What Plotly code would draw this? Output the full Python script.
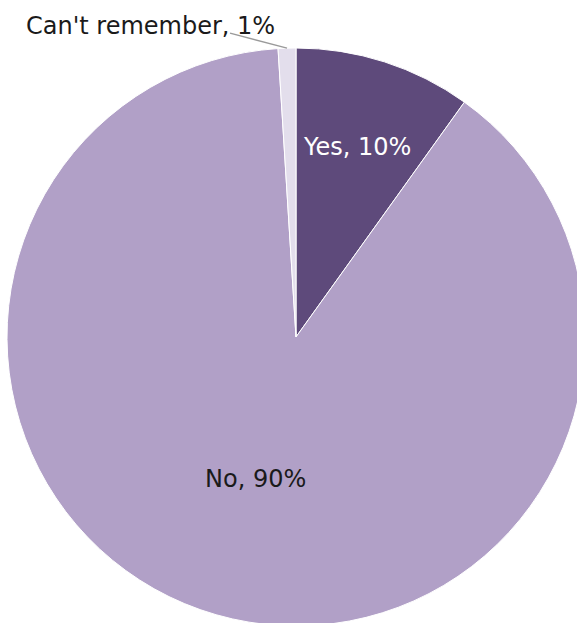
import math
import plotly.graph_objects as go

# Survey answers
labels = ["Yes", "No", "Can't remember"]
values = [10, 90, 1]
colors = ["#5e4a7b", "#b1a0c7", "#e3deec"]
text_colors = ["#ffffff", "#1a1a1a", "#1a1a1a"]

W, H = 600, 680
cx, cy, r = 296, 337, 289  # pie centre and radius in pixels
label_radius = [0.69, 0.51, 1.0]  # label distance from centre, as fraction of r

texts = [f"{l}, {v}%" for l, v in zip(labels, values)]

fig = go.Figure(go.Pie(
    labels=labels,
    values=values,
    textinfo="none",
    sort=False,
    direction="clockwise",
    rotation=0,
    marker=dict(colors=colors, line=dict(color="#ffffff", width=1)),
    domain=dict(x=[(cx - r) / W, (cx + r) / W],
                y=[(H - cy - r) / H, (H - cy + r) / H]),
    showlegend=False,
    hoverinfo="skip",
))


def px(x):
    return x / W


def py(y):
    return 1 - y / H


# mid angle of every slice, clockwise from 12 o'clock
total = sum(values)
mids = []
acc = 0
for v in values:
    mids.append(math.radians((acc + v / 2) / total * 360))
    acc += v

font = dict(family="DejaVu Sans", size=24)

# Labels inside the two large slices
for i in range(2):
    lx = cx + label_radius[i] * r * math.sin(mids[i])
    ly = cy - label_radius[i] * r * math.cos(mids[i])
    fig.add_annotation(xref="paper", yref="paper", x=px(lx), y=py(ly),
                       text=texts[i], showarrow=False,
                       xanchor="center", yanchor="middle",
                       font=dict(font, color=text_colors[i]))

# Outside label for the smallest slice, with a leader line to its edge
tip_x = cx + r * math.sin(mids[2])
tip_y = cy - r * math.cos(mids[2])
tail_x, tail_y = tip_x - 57, tip_y - 15

fig.add_shape(type="line", xref="paper", yref="paper",
              x0=px(tail_x), y0=py(tail_y), x1=px(tip_x), y1=py(tip_y),
              line=dict(color="#9a9a9a", width=1.5))
fig.add_annotation(xref="paper", yref="paper", x=px(tip_x), y=py(tip_y),
                   text=texts[2], showarrow=False,
                   xanchor="right", yanchor="middle", xshift=-10, yshift=22,
                   font=dict(font, color=text_colors[2]))

fig.update_layout(
    width=W, height=H,
    margin=dict(l=0, r=0, t=0, b=0),
    paper_bgcolor="#ffffff",
    plot_bgcolor="#ffffff",
)

fig.write_html("out.html", config={"displayModeBar": False},
               post_script="document.body.style.margin='0';document.body.style.overflow='hidden';")
